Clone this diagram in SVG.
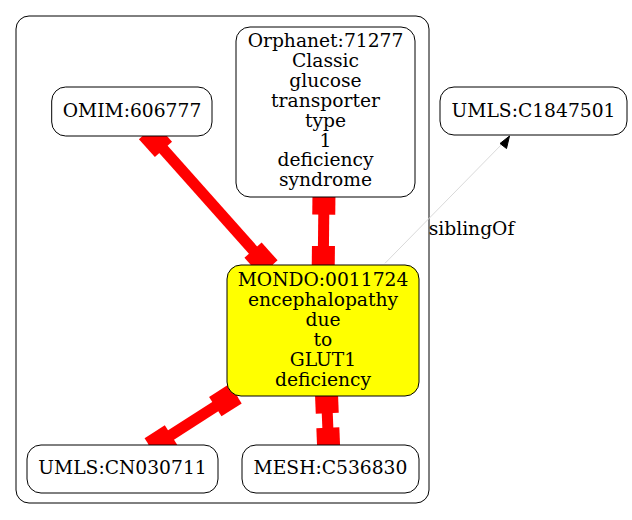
<svg xmlns="http://www.w3.org/2000/svg" width="632" height="520" viewBox="0 0 632 520">
<style>
text{font-family:"DejaVu Serif","Liberation Serif",serif;font-size:18.7px;fill:#000;text-anchor:middle}
.node{fill:#fff;stroke:#000;stroke-width:1}
.focus{fill:#ffff00}
.cluster{fill:none;stroke:#000;stroke-width:1}
.xref{fill:none;stroke:#ff0000;stroke-width:11;marker-start:url(#box);marker-end:url(#box)}
.sib{fill:none;stroke:#d9d9d9;stroke-width:1}
</style>
<defs>
<marker id="box" markerUnits="userSpaceOnUse" orient="auto-start-reverse" refX="0" refY="0" markerWidth="60" markerHeight="60" viewBox="-30 -30 60 60" overflow="visible">
<path d="M-24,-11.5 H0 V11.5 H-24 Z" fill="#ff0000"/>
</marker>
</defs>
<rect width="632" height="520" fill="#fff"/>
<g id="cluster">
<rect class="cluster" x="16" y="16" width="413" height="487" rx="13"/>
</g>
<g id="connectors">
<path class="xref" d="M147.5,131.5 L269,268"/>
<path class="xref" d="M324,190.7 L323.2,270"/>
<path class="xref" d="M235.5,393.7 L150.8,448"/>
<path class="xref" d="M326.3,389.3 L328.8,451.7"/>
<path class="sib" d="M385,263.3 L504,142"/>
<polygon points="509.5,136 500,143.5 506.5,148.5" fill="#000" stroke="#000" stroke-width="1"/>
<text x="471.5" y="235">siblingOf</text>
</g>
<g id="orphanet">
<rect class="node" x="236" y="27" width="179" height="170" rx="14"/>
<text x="325.5" y="47">Orphanet:71277</text>
<text x="325.5" y="67">Classic</text>
<text x="325.5" y="86.8">glucose</text>
<text x="325.5" y="106.7">transporter</text>
<text x="325.5" y="126.6">type</text>
<text x="325.5" y="146.5">1</text>
<text x="325.5" y="166.4">deficiency</text>
<text x="325.5" y="186.3">syndrome</text>
</g>
<g id="omim">
<rect class="node" x="51.7" y="87" width="160.3" height="49" rx="14"/>
<text x="132" y="117">OMIM:606777</text>
</g>
<g id="umls_c1847501">
<rect class="node" x="440" y="87" width="187" height="48" rx="14"/>
<text x="533.5" y="117">UMLS:C1847501</text>
</g>
<g id="mondo">
<rect class="node focus" x="227" y="265" width="192" height="131" rx="14"/>
<text x="323" y="286">MONDO:0011724</text>
<text x="323" y="306">encephalopathy</text>
<text x="323" y="326">due</text>
<text x="323" y="346">to</text>
<text x="323" y="366">GLUT1</text>
<text x="323" y="386">deficiency</text>
</g>
<g id="umls_cn030711">
<rect class="node" x="27" y="445" width="191" height="48" rx="14"/>
<text x="122.5" y="474">UMLS:CN030711</text>
</g>
<g id="mesh">
<rect class="node" x="242" y="445" width="177" height="48" rx="14"/>
<text x="330.5" y="474">MESH:C536830</text>
</g>
</svg>
